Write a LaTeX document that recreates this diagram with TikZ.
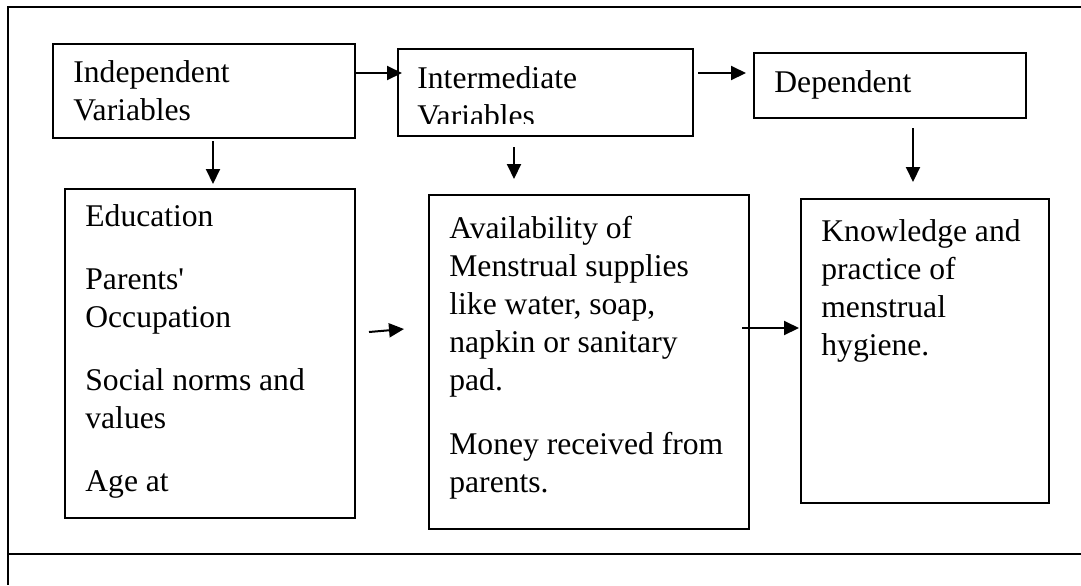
\documentclass[tikz,border=0pt]{standalone}
\usepackage{fontspec}
\setmainfont{Liberation Serif}
\usetikzlibrary{arrows.meta}
\tikzset{
  box/.style={draw, line width=1pt, inner sep=0pt, anchor=north west},
  txt/.style={anchor=base west, inner sep=0pt, font=\fontsize{15.8pt}{19pt}\selectfont},
  arr/.style={line width=1pt, -{Triangle[length=7.5pt,width=7pt]}},
}
\begin{document}
\begin{tikzpicture}[x=0.5pt,y=-0.5pt]
\useasboundingbox (0,0) rectangle (1081,585);
% frame
\draw [line width=1.4pt] (1081,7) -- (8,7) -- (8,585);
\draw [line width=1.4pt] (8,554) -- (1081,554);
% top row
\node[box, minimum width=151pt, minimum height=47pt] (ind) at (52,43) {};
\node[box, minimum width=147.5pt, minimum height=43.5pt] (inter) at (397,48) {};
\node[box, minimum width=136pt, minimum height=32.5pt] (dep) at (753,52) {};
\node[txt] (indA) at (73,82) {Independent};
\node[txt] (indB) at (73,120) {Variables};
\node[txt] (interA) at (417,88) {Intermediate};
\begin{scope}
\clip (397,48) rectangle (692,123.5);
\node[txt] (interB) at (417,126) {Variables};
\end{scope}
\node[txt] (depA) at (774,92) {Dependent};
% bottom row
\node[box, minimum width=145pt, minimum height=164.5pt] (factors) at (64,188) {};
\node[box, minimum width=160pt, minimum height=167pt] (supplies) at (428,194) {};
\node[box, minimum width=124pt, minimum height=152pt] (outcome) at (800,198) {};
\foreach \y/\t [count=\i] in {226/Education, 289/Parents\textquotesingle, 327/Occupation,
    390/Social norms and, 428/values, 491/Age at}
  \node[txt] (fac\i) at (85,\y) {\t};
\foreach \y/\t [count=\i] in {238/Availability of, 276/Menstrual supplies,
    {314/like water, soap,}, 352/napkin or sanitary, 390/pad.,
    454/Money received from, 492/parents.}
  \node[txt] (sup\i) at (449,\y) {\t};
\foreach \y/\t [count=\i] in {241/Knowledge and, 279/practice of, 317/menstrual, 355/hygiene.}
  \node[txt] (out\i) at (821,\y) {\t};
% arrows
\coordinate (a1s) at (354,73);  \coordinate (a1e) at (402,73);
\coordinate (a2s) at (698,73);  \coordinate (a2e) at (746,73);
\coordinate (d1s) at (213,141); \coordinate (d1e) at (213,184);
\coordinate (d2s) at (514,147); \coordinate (d2e) at (514,179);
\coordinate (d3s) at (913,128); \coordinate (d3e) at (913,182);
\coordinate (h1s) at (369,332); \coordinate (h1e) at (404,329);
\coordinate (h2s) at (742,328); \coordinate (h2e) at (799,328);
\draw[arr] (a1s) -- (a1e);
\draw[arr] (a2s) -- (a2e);
\draw[arr] (d1s) -- (d1e);
\draw[arr] (d2s) -- (d2e);
\draw[arr] (d3s) -- (d3e);
\draw[arr] (h1s) -- (h1e);
\draw[arr] (h2s) -- (h2e);
\end{tikzpicture}
\end{document}
